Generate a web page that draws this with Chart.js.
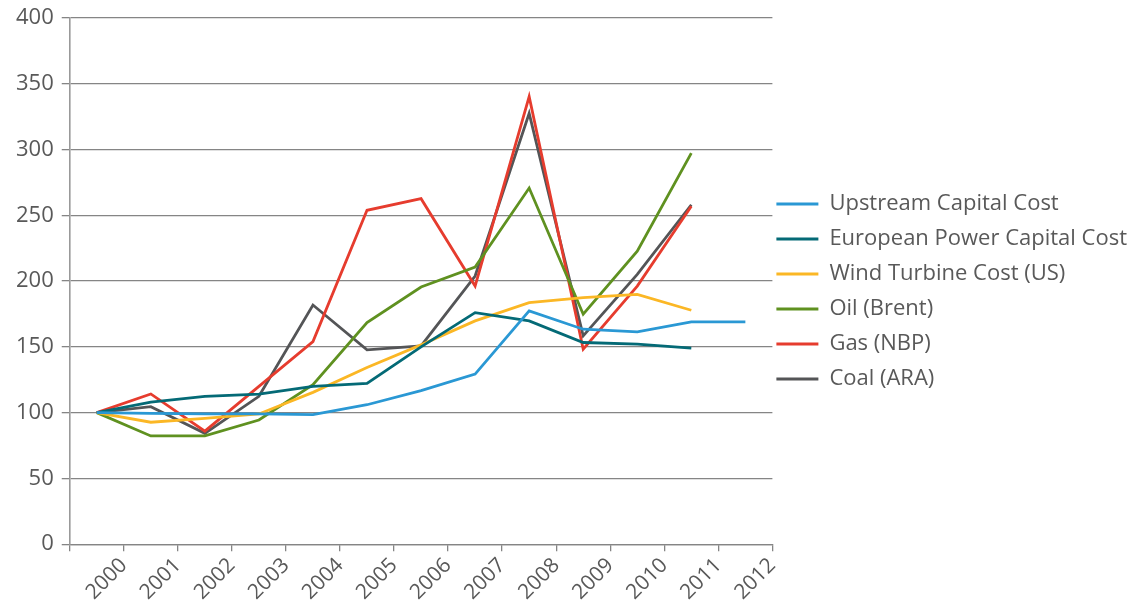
<!DOCTYPE html>
<html>
<head>
<meta charset="utf-8">
<script src="https://cdn.jsdelivr.net/npm/chart.js@4.4.1/dist/chart.umd.min.js"></script>
<style>
  html, body { margin: 0; padding: 0; background: #fff; }
  #wrap { width: 1139px; height: 606px; position: relative; }
</style>
</head>
<body>
<div id="wrap"><canvas id="chart"></canvas></div>
<script>
// years on the x axis
let years = ['2000', '2001', '2002', '2003', '2004', '2005', '2006', '2007', '2008', '2009', '2010', '2011', '2012'];

// index values, 2000 = 100
let upstream = [100, 99.5, 99, 99, 98.5, 106, 116.7, 129.3, 177.3, 163.4, 161.4, 169, 169];
let europeanPower = [100, 108, 112.4, 114, 120, 122.2, 150, 176, 169.7, 153.3, 152, 149, null];
let windTurbine = [100, 92.7, 95.7, 99, 115.4, 134.3, 151.5, 169.7, 183.6, 187.4, 189.9, 177.8, null];
let oilBrent = [100, 82.3, 82.3, 94.4, 121.2, 168.4, 195.5, 210.6, 270.7, 174.8, 222.7, 297.2, null];
let gasNbp = [100, 114.2, 85.9, 120, 154, 253.8, 262.6, 196.2, 340.2, 148.2, 196.2, 256.8, null];
let coalAra = [100, 104.5, 84.3, 112.4, 181.8, 147.7, 150.8, 203.8, 327.5, 158.3, 205, 258, null];

let yTicks = [0, 50, 100, 150, 200, 250, 300, 350, 400];

let textColor = '#595959';
let gridColor = '#858585';

function series(label, values, color) {
    return {
        label: label,
        data: values,
        borderColor: color,
        backgroundColor: color,
        borderWidth: 2.8,
        pointRadius: 0,
        pointHoverRadius: 0,
        tension: 0,
        spanGaps: false
    };
}

// nudge the legend box so it sits closer to the plot, a bit higher
let legendNudge = {
    id: 'legendNudge',
    afterLayout: function (chart) {
        let lg = chart.legend;
        if (!lg) return;
        lg.left -= 9;
        lg.right -= 9;
        lg.top -= 12;
        lg.bottom -= 12;
    }
};

let ctx = document.getElementById('chart').getContext('2d');
let chart = new Chart(ctx, {
    type: 'line',
    data: {
        labels: years,
        datasets: [
            series('Upstream Capital Cost', upstream, '#2a98d4'),
            series('European Power Capital Cost', europeanPower, '#046a76'),
            series('Wind Turbine Cost (US)', windTurbine, '#fbb725'),
            series('Oil (Brent)', oilBrent, '#5f9120'),
            series('Gas (NBP)', gasNbp, '#e63c2e'),
            series('Coal (ARA)', coalAra, '#545557')
        ]
    },
    plugins: [legendNudge],
    options: {
        responsive: true,
        maintainAspectRatio: false,
        animation: false,
        layout: {
            padding: { top: 0, right: -7, bottom: -1, left: 8 }
        },
        plugins: {
            tooltip: { enabled: false },
            legend: {
                position: 'right',
                align: 'center',
                maxWidth: 500,
                labels: {
                    usePointStyle: true,
                    pointStyle: 'line',
                    pointStyleWidth: 42,
                    padding: 13,
                    color: textColor,
                    font: { family: 'Open Sans', size: 22 }
                }
            }
        },
        scales: {
            x: {
                type: 'category',
                offset: true,
                grid: {
                    offset: true,
                    drawOnChartArea: false,
                    drawTicks: true,
                    tickLength: 7,
                    color: gridColor,
                    lineWidth: 1.3
                },
                border: { color: gridColor, width: 1.3 },
                ticks: {
                    color: textColor,
                    font: { family: 'Open Sans', size: 21 },
                    minRotation: 45,
                    maxRotation: 45,
                    autoSkip: false,
                    labelOffset: 27,
                    padding: 2
                }
            },
            y: {
                min: 0,
                max: 400,
                afterBuildTicks: function (axis) {
                    axis.ticks = yTicks.map(v => ({ value: v }));
                },
                grid: {
                    color: gridColor,
                    lineWidth: 1.3,
                    tickLength: 8
                },
                border: { color: '#999999', width: 1.6 },
                ticks: {
                    color: textColor,
                    font: { family: 'Open Sans', size: 22, lineHeight: 0.9 },
                    padding: 8
                }
            }
        }
    }
});
</script>
</body>
</html>
